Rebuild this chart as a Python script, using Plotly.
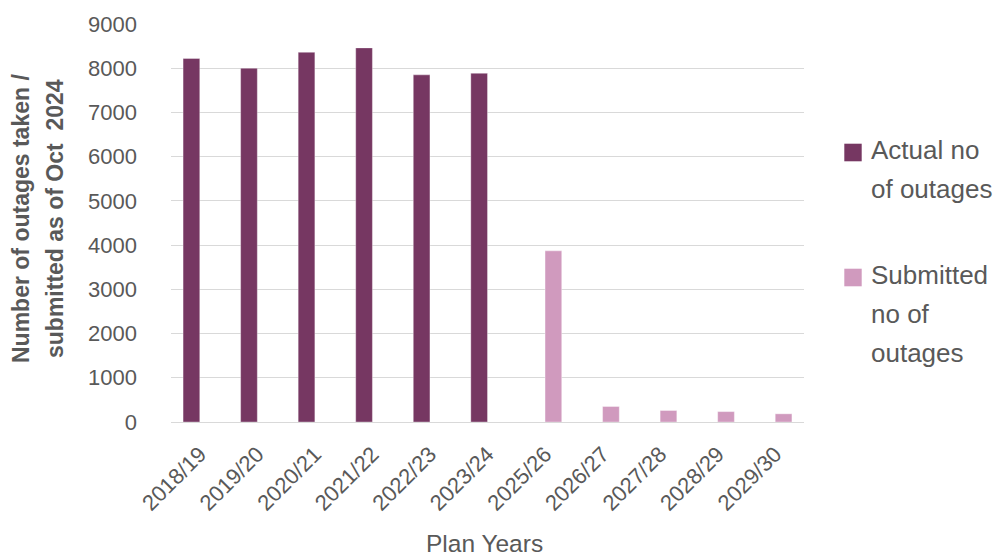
import plotly.graph_objects as go

# Plan years on the category axis (2024/25 has no entry)
plan_years = ["2018/19", "2019/20", "2020/21", "2021/22", "2022/23", "2023/24",
              "2025/26", "2026/27", "2027/28", "2028/29", "2029/30"]

# Outages actually taken, per plan year
actual_outages = [8220, 8000, 8360, 8460, 7850, 7885,
                  None, None, None, None, None]

# Outages submitted as of Oct 2024, per plan year
submitted_outages = [None, None, None, None, None, None,
                     3870, 350, 260, 235, 185]

y_ticks = [0, 1000, 2000, 3000, 4000, 5000, 6000, 7000, 8000, 9000]

series_names = ["Actual no of outages", "Submitted no of outages"]
legend_lines = [["Actual no", "of outages"], ["Submitted", "no of", "outages"]]

ACTUAL_COLOR = "#763762"
SUBMITTED_COLOR = "#D09ABE"
TEXT_COLOR = "#595959"
GRID_COLOR = "#D9D9D9"
FONT = "Liberation Sans, Arial, sans-serif"

# plot area in pixels
W, H = 994, 558
L, R, T, B = 171, 190, 22, 136

fig = go.Figure()
fig.add_trace(go.Bar(
    x=plan_years, y=actual_outages, name=series_names[0],
    marker=dict(color=ACTUAL_COLOR, line=dict(color="rgba(255,255,255,0.35)", width=1)),
))
fig.add_trace(go.Bar(
    x=plan_years, y=submitted_outages, name=series_names[1],
    marker=dict(color=SUBMITTED_COLOR, line=dict(color="rgba(255,255,255,0.35)", width=1)),
))

fig.update_layout(
    width=W, height=H,
    margin=dict(l=L, r=R, t=T, b=B, pad=0),
    paper_bgcolor="white", plot_bgcolor="white",
    barmode="group", bargap=0.42, bargroupgap=0,
    showlegend=False,
    font=dict(family=FONT, color=TEXT_COLOR),
)

fig.update_xaxes(
    type="category", tickangle=-45,
    tickfont=dict(size=22, color=TEXT_COLOR, family=FONT),
    showgrid=False, showline=False, zeroline=False, ticks="",
    ticklabelstandoff=14,
)
fig.update_yaxes(
    range=[0, 9000], tickvals=y_ticks, tickformat="d",
    tickfont=dict(size=22, color=TEXT_COLOR, family=FONT),
    showgrid=True, gridcolor=GRID_COLOR, gridwidth=1.3,
    zeroline=True, zerolinecolor=GRID_COLOR, zerolinewidth=1.3,
    showline=False, ticks="", ticklabelstandoff=33,
)

def ann(text, x_px, y_px, size, bold=False, angle=0, xanchor="center"):
    # place text at an absolute pixel location relative to the plot area
    fig.add_annotation(
        text=f"<b>{text}</b>" if bold else text,
        xref="paper", yref="paper", x=0, y=1,
        xshift=x_px - L, yshift=-(y_px - T),
        xanchor=xanchor, yanchor="middle",
        textangle=angle, showarrow=False,
        font=dict(size=size, color=TEXT_COLOR, family=FONT),
    )

# axis titles
ann("Number of outages taken /", 21, 217, 23, bold=True, angle=-90)
ann("submitted as of Oct  2024", 55, 217, 23, bold=True, angle=-90)
ann("Plan Years", 484, 541.5, 24.5)

# legend: swatches and wrapped labels
legend_colors = [ACTUAL_COLOR, SUBMITTED_COLOR]
legend_tops = [141.7, 266.7]
line_step = 39
for color, top, lines in zip(legend_colors, legend_tops, legend_lines):
    fig.add_shape(
        type="rect", xref="paper", yref="paper",
        xsizemode="pixel", ysizemode="pixel",
        xanchor=1, yanchor=1,
        x0=844.3 - (W - R), x1=861.7 - (W - R),
        y0=-(top - T), y1=-(top + 17.6 - T),
        fillcolor=color, line=dict(width=0),
    )
    for i, line in enumerate(lines):
        ann(line, 869, top + 6.5 + i * line_step, 26, xanchor="left")

fig.write_html("out.html")
